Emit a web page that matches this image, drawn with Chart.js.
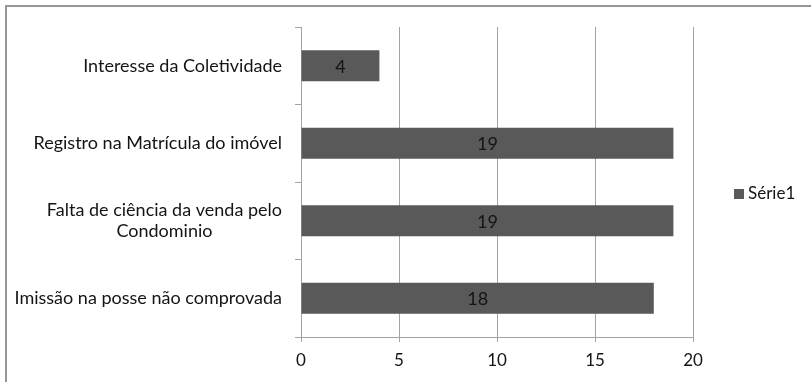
<!DOCTYPE html>
<html>
<head>
<meta charset="utf-8">
<script src="https://cdn.jsdelivr.net/npm/chart.js@4/dist/chart.umd.min.js"></script>
<style>
  html, body { margin: 0; padding: 0; background: #fff; }
  #wrap { width: 811px; height: 382px; }
</style>
</head>
<body>
<div id="wrap"><canvas id="c" width="811" height="382"></canvas></div>
<script>
// Categories (each entry is a list of text lines), top to bottom
const categories = [
  ["Interesse da Coletividade"],
  ["Registro na Matrícula do imóvel"],
  ["Falta de ciência da venda pelo", "Condominio"],
  ["Imissão na posse não comprovada"]
];
const seriesName = "Série1";
const seriesValues = [4, 19, 19, 18];
const xTicks = [0, 5, 10, 15, 20];

const FONT = "Lato, 'Open Sans', sans-serif";
const TEXT = "#141414";
const BAR = "#595959";
const GRID = "#a3a3a3";

// Category labels, drawn right-aligned as a block; wrapped lines centred on each other
const categoryLabels = {
  id: "categoryLabels",
  afterDraw(chart) {
    const ctx = chart.ctx;
    const y = chart.scales.y;
    const right = chart.chartArea.left - 19;
    const lineH = 21;
    ctx.save();
    ctx.font = "18px " + FONT;
    ctx.fillStyle = TEXT;
    ctx.textAlign = "center";
    ctx.textBaseline = "middle";
    categories.forEach((lines, i) => {
      const cy = y.getPixelForValue(i);
      const maxW = Math.max(...lines.map(l => ctx.measureText(l).width));
      const cx = right - maxW / 2;
      lines.forEach((l, j) => {
        ctx.fillText(l, cx, cy + (j - (lines.length - 1) / 2) * lineH);
      });
    });
    ctx.restore();
  }
};

// Value written in the middle of each bar
const barValues = {
  id: "barValues",
  afterDatasetsDraw(chart) {
    const ctx = chart.ctx;
    const meta = chart.getDatasetMeta(0);
    ctx.save();
    ctx.font = "18px " + FONT;
    ctx.fillStyle = TEXT;
    ctx.textAlign = "center";
    ctx.textBaseline = "middle";
    meta.data.forEach((bar, i) => {
      const v = chart.data.datasets[0].data[i];
      ctx.fillText(String(v), (bar.x + bar.base) / 2, bar.y + 1);
    });
    ctx.restore();
  }
};

// Legend on the right plus the frame around the chart object
const sideLegend = {
  id: "sideLegend",
  afterDraw(chart) {
    const ctx = chart.ctx;
    const ds = chart.data.datasets[0];
    const x = chart.chartArea.right + 41;
    const cy = chart.height / 2 + 3;
    ctx.save();
    ctx.fillStyle = ds.backgroundColor;
    ctx.fillRect(x, cy - 5, 10, 10);
    ctx.font = "17px " + FONT;
    ctx.fillStyle = TEXT;
    ctx.textAlign = "left";
    ctx.textBaseline = "middle";
    ctx.fillText(ds.label, x + 14, cy);

    ctx.strokeStyle = "#969696";
    ctx.lineWidth = 2;
    ctx.beginPath();
    ctx.moveTo(chart.width, 6);
    ctx.lineTo(6, 6);
    ctx.lineTo(6, chart.height);
    ctx.stroke();
    ctx.restore();
  }
};

new Chart(document.getElementById("c"), {
  type: "bar",
  data: {
    labels: categories.map(l => l.join(" ")),
    datasets: [{
      label: seriesName,
      data: seriesValues,
      backgroundColor: BAR,
      borderWidth: 0,
      categoryPercentage: 1.0,
      barPercentage: 0.4
    }]
  },
  options: {
    indexAxis: "y",
    responsive: false,
    animation: false,
    devicePixelRatio: 1,
    layout: { padding: { top: 27, right: 118, left: 0, bottom: 0 } },
    plugins: {
      legend: { display: false },
      tooltip: { enabled: false },
      title: { display: false }
    },
    scales: {
      x: {
        type: "linear",
        min: xTicks[0],
        max: xTicks[xTicks.length - 1],
        afterBuildTicks(scale) { scale.ticks = xTicks.map(v => ({ value: v })); },
        afterFit(scale) { scale.height = 45; },
        grid: { color: GRID, lineWidth: 1, tickLength: 5, drawTicks: true },
        border: { color: GRID, width: 1 },
        ticks: { color: TEXT, font: { family: FONT, size: 17 }, padding: 8 }
      },
      y: {
        type: "category",
        afterFit(scale) { scale.width = 301; },
        grid: { display: true, drawOnChartArea: false, color: GRID, tickLength: 6, offset: true },
        border: { color: GRID, width: 1 },
        ticks: { display: false }
      }
    }
  },
  plugins: [categoryLabels, barValues, sideLegend]
});
</script>
</body>
</html>
